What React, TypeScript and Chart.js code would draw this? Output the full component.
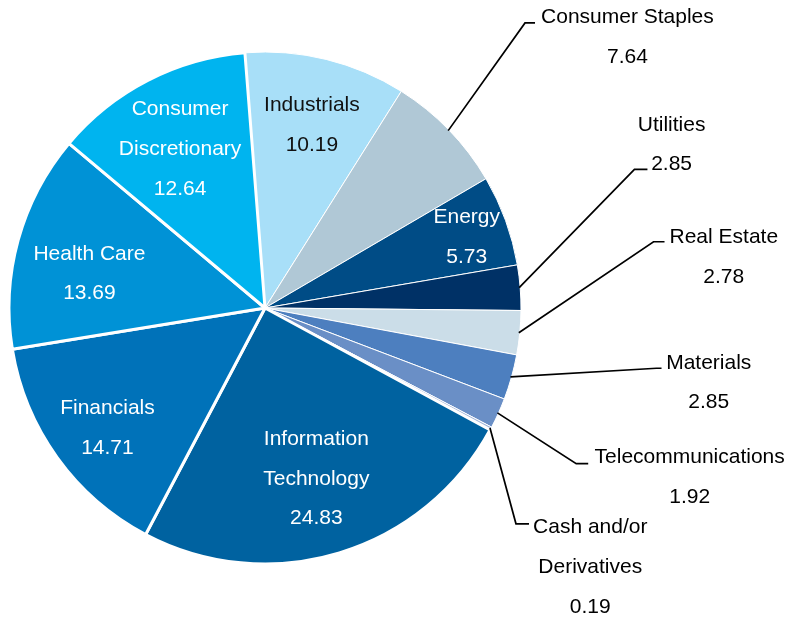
import React, { useEffect, useRef } from "react";
import { Chart, registerables } from "chart.js";

Chart.register(...registerables);

// ---- Data ----
const SECTORS = [
  "Industrials",
  "Consumer Staples",
  "Energy",
  "Utilities",
  "Real Estate",
  "Materials",
  "Telecommunications",
  "Cash and/or Derivatives",
  "Information Technology",
  "Financials",
  "Health Care",
  "Consumer Discretionary",
];
const WEIGHTS = [10.19, 7.64, 5.73, 2.85, 2.78, 2.85, 1.92, 0.19, 24.83, 14.71, 13.69, 12.64];
const LABEL_LINES = [
  ["Industrials"],
  ["Consumer Staples"],
  ["Energy"],
  ["Utilities"],
  ["Real Estate"],
  ["Materials"],
  ["Telecommunications"],
  ["Cash and/or", "Derivatives"],
  ["Information", "Technology"],
  ["Financials"],
  ["Health Care"],
  ["Consumer", "Discretionary"],
];

// ---- Styles ----
const COLORS = [
  "#a8dff8",
  "#b0c8d6",
  "#004c86",
  "#003166",
  "#cbdde8",
  "#4d7fbf",
  "#6a8fc6",
  "#9db3d9",
  "#0062a0",
  "#0072b9",
  "#0092d6",
  "#00b4ef",
];
const BORDER_WIDTHS = [1, 1, 1, 1, 1, 1, 1, 1, 3, 3, 3, 3];
const TEXT_COLORS = ["#111111", "#000000", "#ffffff", "#000000", "#000000", "#000000", "#000000", "#000000", "#ffffff", "#ffffff", "#ffffff", "#ffffff"];

// inside labels: radial factor and angle tweak (deg) from the slice's mid-angle
const INSIDE_LAYOUT: Record<number, { k: number; da: number }> = {
  0: { k: 0.745, da: 0.4 },
  2: { k: 0.837, da: 0.3 },
  8: { k: 0.69, da: 0 },
  9: { k: 0.77, da: -1.2 },
  10: { k: 0.7, da: -3.8 },
  11: { k: 0.71, da: -0.6 },
};
// outside labels: elbow & text anchor offsets from pie centre (px at radius 255)
const OUTSIDE_LAYOUT: Record<number, { elbow: [number, number]; hLen: number; tx: number; ty: number }> = {
  1: { elbow: [259, -284], hLen: 10, tx: 361, ty: -291 },
  3: { elbow: [368, -138], hLen: 13, tx: 405, ty: -184 },
  4: { elbow: [387, -66], hLen: 11, tx: 457, ty: -72 },
  5: { elbow: [390, 60], hLen: 5, tx: 442, ty: 53 },
  6: { elbow: [310, 155], hLen: 12, tx: 423, ty: 147 },
  7: { elbow: [250, 215], hLen: 13, tx: 324, ty: 217 },
};

const FONT_SIZE = 21;
const FONT = `${FONT_SIZE}px "Liberation Sans", Arial, sans-serif`;
const LINE_GAP = 39.7;

const labelPlugin = {
  id: "sectorLabels",
  afterDatasetsDraw(chart: any) {
    const ctx = chart.ctx as CanvasRenderingContext2D;
    const meta = chart.getDatasetMeta(0);
    ctx.save();
    ctx.font = FONT;
    ctx.textAlign = "center";
    ctx.textBaseline = "alphabetic";
    const capShift = FONT_SIZE * 0.358;
    meta.data.forEach((arc: any, i: number) => {
      const { x, y, startAngle, endAngle, outerRadius } = arc.getProps(
        ["x", "y", "startAngle", "endAngle", "outerRadius"],
        true
      );
      const mid = (startAngle + endAngle) / 2;
      const lines = [...LABEL_LINES[i], WEIGHTS[i].toFixed(2)];
      const s = outerRadius / 255;
      if (INSIDE_LAYOUT[i] !== undefined) {
        const { k, da } = INSIDE_LAYOUT[i];
        const a = mid + (da * Math.PI) / 180;
        const cx = x + k * outerRadius * Math.cos(a);
        const cy = y + k * outerRadius * Math.sin(a);
        const y0 = cy - ((lines.length - 1) * LINE_GAP) / 2;
        ctx.fillStyle = TEXT_COLORS[i];
        lines.forEach((t, j) => ctx.fillText(t, cx, y0 + j * LINE_GAP + capShift));
      } else if (OUTSIDE_LAYOUT[i]) {
        const L = OUTSIDE_LAYOUT[i];
        const sx = x + (outerRadius - 1) * Math.cos(mid);
        const sy = y + (outerRadius - 1) * Math.sin(mid);
        const ex = x + L.elbow[0] * s;
        const ey = y + L.elbow[1] * s;
        ctx.beginPath();
        ctx.strokeStyle = "#000000";
        ctx.lineWidth = 1.7;
        ctx.lineJoin = "miter";
        ctx.moveTo(sx, sy);
        ctx.lineTo(ex, ey);
        ctx.lineTo(ex + L.hLen, ey);
        ctx.stroke();
        ctx.fillStyle = "#000000";
        const tx = x + L.tx * s;
        const ty = y + L.ty * s;
        lines.forEach((t, j) => ctx.fillText(t, tx, ty + j * LINE_GAP + capShift));
      }
    });
    ctx.restore();
  },
};

export default function App() {
  const canvasRef = useRef<HTMLCanvasElement | null>(null);

  useEffect(() => {
    if (!canvasRef.current) return;
    const chart = new Chart(canvasRef.current, {
      type: "pie",
      data: {
        labels: SECTORS,
        datasets: [
          {
            data: WEIGHTS,
            backgroundColor: COLORS,
            borderColor: "#ffffff",
            borderWidth: BORDER_WIDTHS,
            hoverOffset: 0,
            offset: 0,
          },
        ],
      },
      plugins: [labelPlugin],
      options: {
        responsive: false,
        animation: false,
        rotation: -4.5,
        layout: { padding: { left: 7.5, right: 269.5, top: 50.5, bottom: 53.5 } },
        plugins: {
          legend: { display: false },
          tooltip: { enabled: false },
        },
        events: [],
      },
    });
    return () => chart.destroy();
  }, []);

  return (
    <div style={{ position: "fixed", left: 0, top: 0, width: 792, height: 619, background: "#ffffff" }}>
      <canvas ref={canvasRef} width={792} height={619} style={{ display: "block" }} />
    </div>
  );
}
